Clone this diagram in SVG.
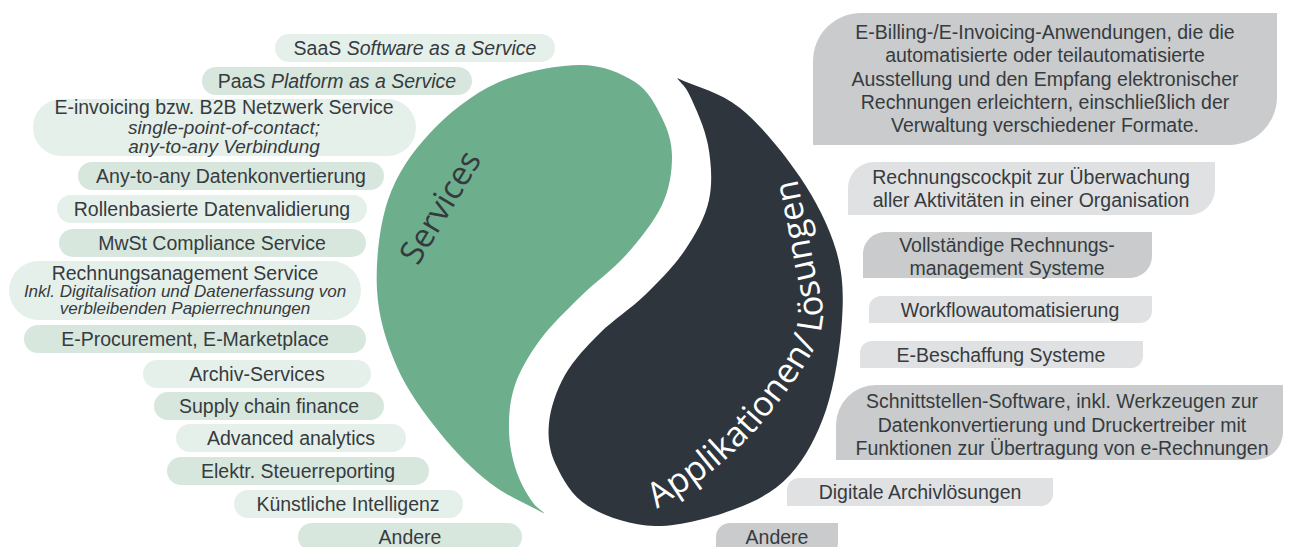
<svg xmlns="http://www.w3.org/2000/svg" width="1295" height="547" viewBox="0 0 1295 547">
<style>
.pl{fill:#e6f0ea}
.pd{fill:#d7e7de}
.gl{fill:#e0e1e2}
.gd{fill:#c9cbcc}
.t{font-family:"Liberation Sans",Arial,sans-serif;font-size:19.5px;fill:#363b40;text-anchor:middle}
.i{font-style:italic}
.m{font-size:19px}
.s{font-size:17px}
.big{font-family:"Open Sans","DejaVu Sans",sans-serif;font-size:33px}
.arc{font-size:34.5px}
</style>
<defs>
<path id="arc" d="M657,509 C678.3,493.7 697.8,483.5 717,467 C736.2,450.5 756.7,430.8 774,408 C791.3,385.2 814.7,355.3 821,330 C827.3,304.7 816.3,282.8 812,256 C807.7,229.2 800.7,198 795,169 C792,154 789,145 786,136"/>
</defs>
<rect width="1295" height="547" fill="#ffffff"/>

<g id="services-shape">
<path fill="#6daf8d" d="M580,65 C603,65 621.3,73.2 635,82 C648.7,90.8 655.8,105.5 662,118 C668.2,130.5 672,142.5 672,157 C672,171.5 669.7,188.7 662,205 C654.3,221.3 639.7,239.7 626,255 C612.3,270.3 594.3,282.8 580,297 C565.7,311.2 550.8,325.3 540,340 C529.2,354.7 520.2,370 515,385 C509.8,400 508.8,415.8 509,430 C509.2,444.2 512.3,458.3 516,470 C519.7,481.7 526.2,492.7 531,500 C535.8,507.3 540.3,509.3 545,514 C526.7,503.7 507.5,496.5 490,483 C472.5,469.5 455.5,452.3 440,433 C424.5,413.7 407.5,390.8 397,367 C386.5,343.2 378.5,317.8 377,290 C375.5,262.2 379.2,226.2 388,200 C396.8,173.8 411.8,152.5 430,133 C448.2,113.5 472,94.3 497,83 C522,71.7 557.8,65 580,65 Z"/>
<text class="big" fill="#343a3f" text-anchor="middle" transform="translate(450,213) rotate(-59)">Services</text>
</g>

<g id="applications-shape">
<path fill="#2e353d" d="M677,78 C698,88 719.5,91.5 740,108 C760.5,124.5 784,153.3 800,177 C816,200.7 829,226.2 836,250 C843,273.8 843.7,293.3 842,320 C840.3,346.7 834.7,384.2 826,410 C817.3,435.8 805.2,458.5 790,475 C774.8,491.5 757.5,500.5 735,509 C712.5,517.5 679.5,526.5 655,526 C630.5,525.5 604.5,516.2 588,506 C571.5,495.8 562.5,478.8 556,465 C549.5,451.2 547.5,438 549,423 C550.5,408 556.5,390 565,375 C573.5,360 586.7,346.3 600,333 C613.3,319.7 630.8,308.8 645,295 C659.2,281.2 674.3,265.8 685,250 C695.7,234.2 705.2,217.5 709,200 C712.8,182.5 711.2,162.3 708,145 C704.8,127.7 695.2,107.2 690,96 C684.8,84.8 681.3,84 677,78 Z"/>
<text class="big arc" fill="#ffffff"><textPath href="#arc">Applikationen/ Lösungen</textPath></text>
</g>

<g id="svc-saas"><rect class="pl" x="275" y="34" width="280" height="28" rx="14"/><text class="t" x="415" y="55">SaaS <tspan class="i">Software as a Service</tspan></text></g>
<g id="svc-paas"><rect class="pd" x="202" y="67" width="270" height="28" rx="14"/><text class="t" x="337" y="88">PaaS <tspan class="i">Platform as a Service</tspan></text></g>
<g id="svc-einvoicing"><rect class="pl" x="33" y="99" width="383" height="57" rx="28.5"/><text class="t"><tspan x="224" y="114">E-invoicing bzw. B2B Netzwerk Service</tspan><tspan class="i m" x="224" y="133.5">single-point-of-contact;</tspan><tspan class="i m" x="224" y="153">any-to-any Verbindung</tspan></text></g>
<g id="svc-anytoany"><rect class="pd" x="78" y="162" width="306" height="28" rx="14"/><text class="t" x="231" y="183">Any-to-any Datenkonvertierung</text></g>
<g id="svc-rollen"><rect class="pl" x="57" y="195" width="310" height="28" rx="14"/><text class="t" x="212" y="216">Rollenbasierte Datenvalidierung</text></g>
<g id="svc-mwst"><rect class="pd" x="59" y="229" width="307" height="28" rx="14"/><text class="t" x="212" y="250">MwSt Compliance Service</text></g>
<g id="svc-rechnung"><rect class="pl" x="9" y="261" width="352" height="59" rx="29.5"/><text class="t"><tspan x="185" y="280">Rechnungsanagement Service</tspan><tspan class="i s" x="185" y="297">Inkl. Digitalisation und Datenerfassung von</tspan><tspan class="i s" x="185" y="314">verbleibenden Papierrechnungen</tspan></text></g>
<g id="svc-eproc"><rect class="pd" x="24" y="325" width="342" height="28" rx="14"/><text class="t" x="195" y="346">E-Procurement, E-Marketplace</text></g>
<g id="svc-archiv"><rect class="pl" x="143" y="360" width="228" height="28" rx="14"/><text class="t" x="257" y="381">Archiv-Services</text></g>
<g id="svc-supply"><rect class="pd" x="154" y="392" width="230" height="28" rx="14"/><text class="t" x="269" y="413">Supply chain finance</text></g>
<g id="svc-analytics"><rect class="pl" x="176" y="424" width="230" height="28" rx="14"/><text class="t" x="291" y="445">Advanced analytics</text></g>
<g id="svc-steuer"><rect class="pd" x="167" y="457" width="262" height="28" rx="14"/><text class="t" x="298" y="478">Elektr. Steuerreporting</text></g>
<g id="svc-ki"><rect class="pl" x="234" y="490" width="229" height="28" rx="14"/><text class="t" x="348" y="511">Künstliche Intelligenz</text></g>
<g id="svc-andere"><rect class="pd" x="298" y="523" width="224" height="28" rx="14"/><text class="t" x="410" y="544">Andere</text></g>

<g id="app-ebilling"><path class="gd" d="M861,13 H1277 V97 A48,48 0 0 1 1229,145 H813 V61 A48,48 0 0 1 861,13 Z"/><text class="t"><tspan x="1045" y="39">E-Billing-/E-Invoicing-Anwendungen, die die</tspan><tspan x="1045" y="62">automatisierte oder teilautomatisierte</tspan><tspan x="1045" y="86">Ausstellung und den Empfang elektronischer</tspan><tspan x="1045" y="109">Rechnungen erleichtern, einschließlich der</tspan><tspan x="1045" y="132">Verwaltung verschiedener Formate.</tspan></text></g>
<g id="app-cockpit"><path class="gl" d="M874,162 H1215 V189 A26,26 0 0 1 1189,215 H848 V188 A26,26 0 0 1 874,162 Z"/><text class="t"><tspan x="1031" y="184">Rechnungscockpit zur Überwachung</tspan><tspan x="1031" y="207">aller Aktivitäten in einer Organisation</tspan></text></g>
<g id="app-rms"><path class="gd" d="M885,232 H1152 V256 A22,22 0 0 1 1130,278 H863 V254 A22,22 0 0 1 885,232 Z"/><text class="t"><tspan x="1007" y="252">Vollständige Rechnungs-</tspan><tspan x="1007" y="275">management Systeme</tspan></text></g>
<g id="app-workflow"><path class="gl" d="M881,296 H1152 V311 A12,12 0 0 1 1140,323 H869 V308 A12,12 0 0 1 881,296 Z"/><text class="t" x="1010" y="317">Workflowautomatisierung</text></g>
<g id="app-ebeschaffung"><path class="gl" d="M872,341 H1143 V356 A12,12 0 0 1 1131,368 H860 V353 A12,12 0 0 1 872,341 Z"/><text class="t" x="1001" y="362">E-Beschaffung Systeme</text></g>
<g id="app-schnittstellen"><path class="gd" d="M876,385 H1283 V432 A28,28 0 0 1 1255,460 H836 V425 A40,40 0 0 1 876,385 Z"/><text class="t"><tspan x="1062" y="408">Schnittstellen-Software, inkl. Werkzeugen zur</tspan><tspan x="1062" y="432">Datenkonvertierung und Druckertreiber mit</tspan><tspan x="1062" y="455">Funktionen zur Übertragung von e-Rechnungen</tspan></text></g>
<g id="app-archiv"><path class="gl" d="M799,478 H1053 V494 A12,12 0 0 1 1041,506 H787 V490 A12,12 0 0 1 799,478 Z"/><text class="t" x="920" y="499">Digitale Archivlösungen</text></g>
<g id="app-andere"><path class="gd" d="M730,523 H838 V543 A12,12 0 0 1 826,555 H716 V537 A14,14 0 0 1 730,523 Z"/><text class="t" x="777" y="544">Andere</text></g>
</svg>
